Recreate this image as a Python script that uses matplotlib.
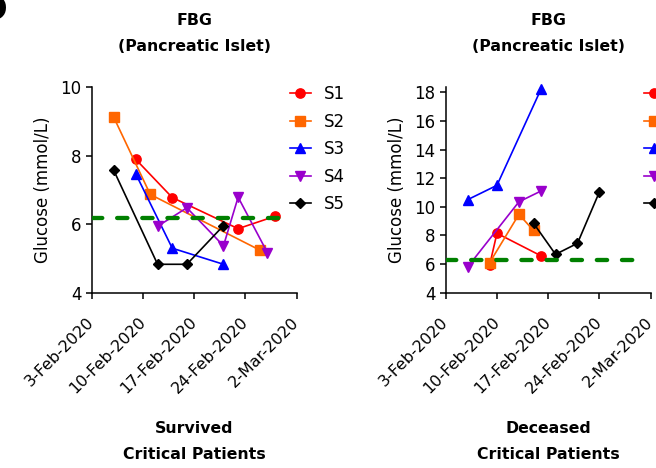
import matplotlib
matplotlib.use("Agg")
import matplotlib.pyplot as plt
import pandas as pd

plt.rcParams['font.family'] = ['DejaVu Sans']
plt.rcParams['lines.scale_dashes'] = False

series_names = ["S1", "S2", "S3", "S4", "S5"]
colors = ["#FF0000", "#FF6600", "#0000FF", "#9900CC", "#000000"]
markers = ["o", "s", "^", "v", "D"]
msizes = [6.7, 6.5, 7.2, 7.2, 5.0]

tick_dates = ["2020-02-03", "2020-02-10", "2020-02-17", "2020-02-24", "2020-03-02"]
tick_labels = ["3-Feb-2020", "10-Feb-2020", "17-Feb-2020", "24-Feb-2020", "2-Mar-2020"]

# Survived critical patients
surv_S1_dates = ["2020-02-09", "2020-02-14", "2020-02-23", "2020-02-28"]
surv_S1_vals = [7.9, 6.78, 5.87, 6.23]
surv_S2_dates = ["2020-02-06", "2020-02-11", "2020-02-26"]
surv_S2_vals = [9.13, 6.87, 5.24]
surv_S3_dates = ["2020-02-09", "2020-02-14", "2020-02-21"]
surv_S3_vals = [7.48, 5.3, 4.83]
surv_S4_dates = ["2020-02-12", "2020-02-16", "2020-02-21", "2020-02-23", "2020-02-27"]
surv_S4_vals = [5.94, 6.48, 5.37, 6.79, 5.17]
surv_S5_dates = ["2020-02-06", "2020-02-12", "2020-02-16", "2020-02-21"]
surv_S5_vals = [7.58, 4.83, 4.83, 5.96]
surv_threshold = 6.18

# Deceased critical patients
dec_S1_dates = ["2020-02-09", "2020-02-10", "2020-02-16"]
dec_S1_vals = [5.93, 8.15, 6.58]
dec_S2_dates = ["2020-02-09", "2020-02-13", "2020-02-15"]
dec_S2_vals = [6.1, 9.47, 8.35]
dec_S3_dates = ["2020-02-06", "2020-02-10", "2020-02-16"]
dec_S3_vals = [10.5, 11.5, 18.2]
dec_S4_dates = ["2020-02-06", "2020-02-13", "2020-02-16"]
dec_S4_vals = [5.8, 10.35, 11.1]
dec_S5_dates = ["2020-02-15", "2020-02-18", "2020-02-21", "2020-02-24"]
dec_S5_vals = [8.85, 6.68, 7.45, 11.05]
dec_threshold = 6.28

threshold_span = ["2020-02-03", "2020-02-29"]

surv = [(surv_S1_dates, surv_S1_vals), (surv_S2_dates, surv_S2_vals),
        (surv_S3_dates, surv_S3_vals), (surv_S4_dates, surv_S4_vals),
        (surv_S5_dates, surv_S5_vals)]
dec = [(dec_S1_dates, dec_S1_vals), (dec_S2_dates, dec_S2_vals),
       (dec_S3_dates, dec_S3_vals), (dec_S4_dates, dec_S4_vals),
       (dec_S5_dates, dec_S5_vals)]

fig = plt.figure(figsize=(6.56, 4.68), dpi=100)
W, H = 656.0, 468.0
AX_W, AX_H, AX_BOT = 205.0, 205.4, 292.7

def make_ax(left_px):
    return fig.add_axes([left_px / W, (H - AX_BOT) / H, AX_W / W, AX_H / H])

ax1 = make_ax(91.7)
ax2 = make_ax(445.7)

def style(ax, data, thr, ylim, yticks, sub):
    for (d, v), c, m, ms, lab in zip(data, colors, markers, msizes, series_names):
        ax.plot(pd.to_datetime(d), v, color=c, marker=m, markersize=ms,
                linewidth=1.2, label=lab, zorder=2, clip_on=False)
    ax.plot(pd.to_datetime(threshold_span), [thr, thr], color="#008000",
            linewidth=3.1, dashes=(7.4, 10.7), dash_capstyle='round', zorder=3)
    td = pd.to_datetime(tick_dates)
    ax.set_xlim(td[0], td[-1])
    ax.set_xticks(td)
    ax.set_xticklabels(tick_labels, rotation=45, ha='right', va='center',
                       rotation_mode='anchor', fontsize=11.5)
    ax.set_ylim(*ylim)
    ax.set_yticks(yticks)
    ax.set_yticklabels([str(t) for t in yticks], fontsize=12)
    for s in ['top', 'right']:
        ax.spines[s].set_visible(False)
    for s in ['left', 'bottom']:
        ax.spines[s].set_linewidth(1.1)
    ax.tick_params(direction='out', length=4.5, width=1.1)
    ax.tick_params(axis='y', pad=3)
    ax.tick_params(axis='x', pad=15)
    ax.set_ylabel("Glucose (mmol/L)", fontsize=12)
    ax.yaxis.label.set_va('center')
    ax.yaxis.set_label_coords((43 - 91.7) / AX_W, 0.5)
    ax.text(0.5, 1 + (87.3 - 33.5) / AX_H, "FBG\n(Pancreatic Islet)",
            transform=ax.transAxes, ha='center', va='center', fontsize=11.3,
            fontweight='bold', linespacing=1.92)
    ax.set_xlabel(sub + "\nCritical Patients", fontsize=11.3, fontweight='bold',
                  linespacing=1.92)
    ax.xaxis.label.set_va('center')
    ax.xaxis.set_label_coords(0.5, (AX_BOT - 441.5) / AX_H)
    ax.legend(loc='upper left', bbox_to_anchor=(0.965, 1.011), frameon=False,
              fontsize=12, handlelength=1.3, labelspacing=0.57,
              handletextpad=0.75, borderaxespad=0, borderpad=0)

style(ax1, surv, surv_threshold, (4, 10), [4, 6, 8, 10], "Survived")
style(ax2, dec, dec_threshold, (4, 18.35), [4, 6, 8, 10, 12, 14, 16, 18], "Deceased")

fig.text(-0.03, 1.012, "D", fontsize=24, fontweight='bold', va='top', ha='left')

fig.savefig("out.png", dpi=100)
